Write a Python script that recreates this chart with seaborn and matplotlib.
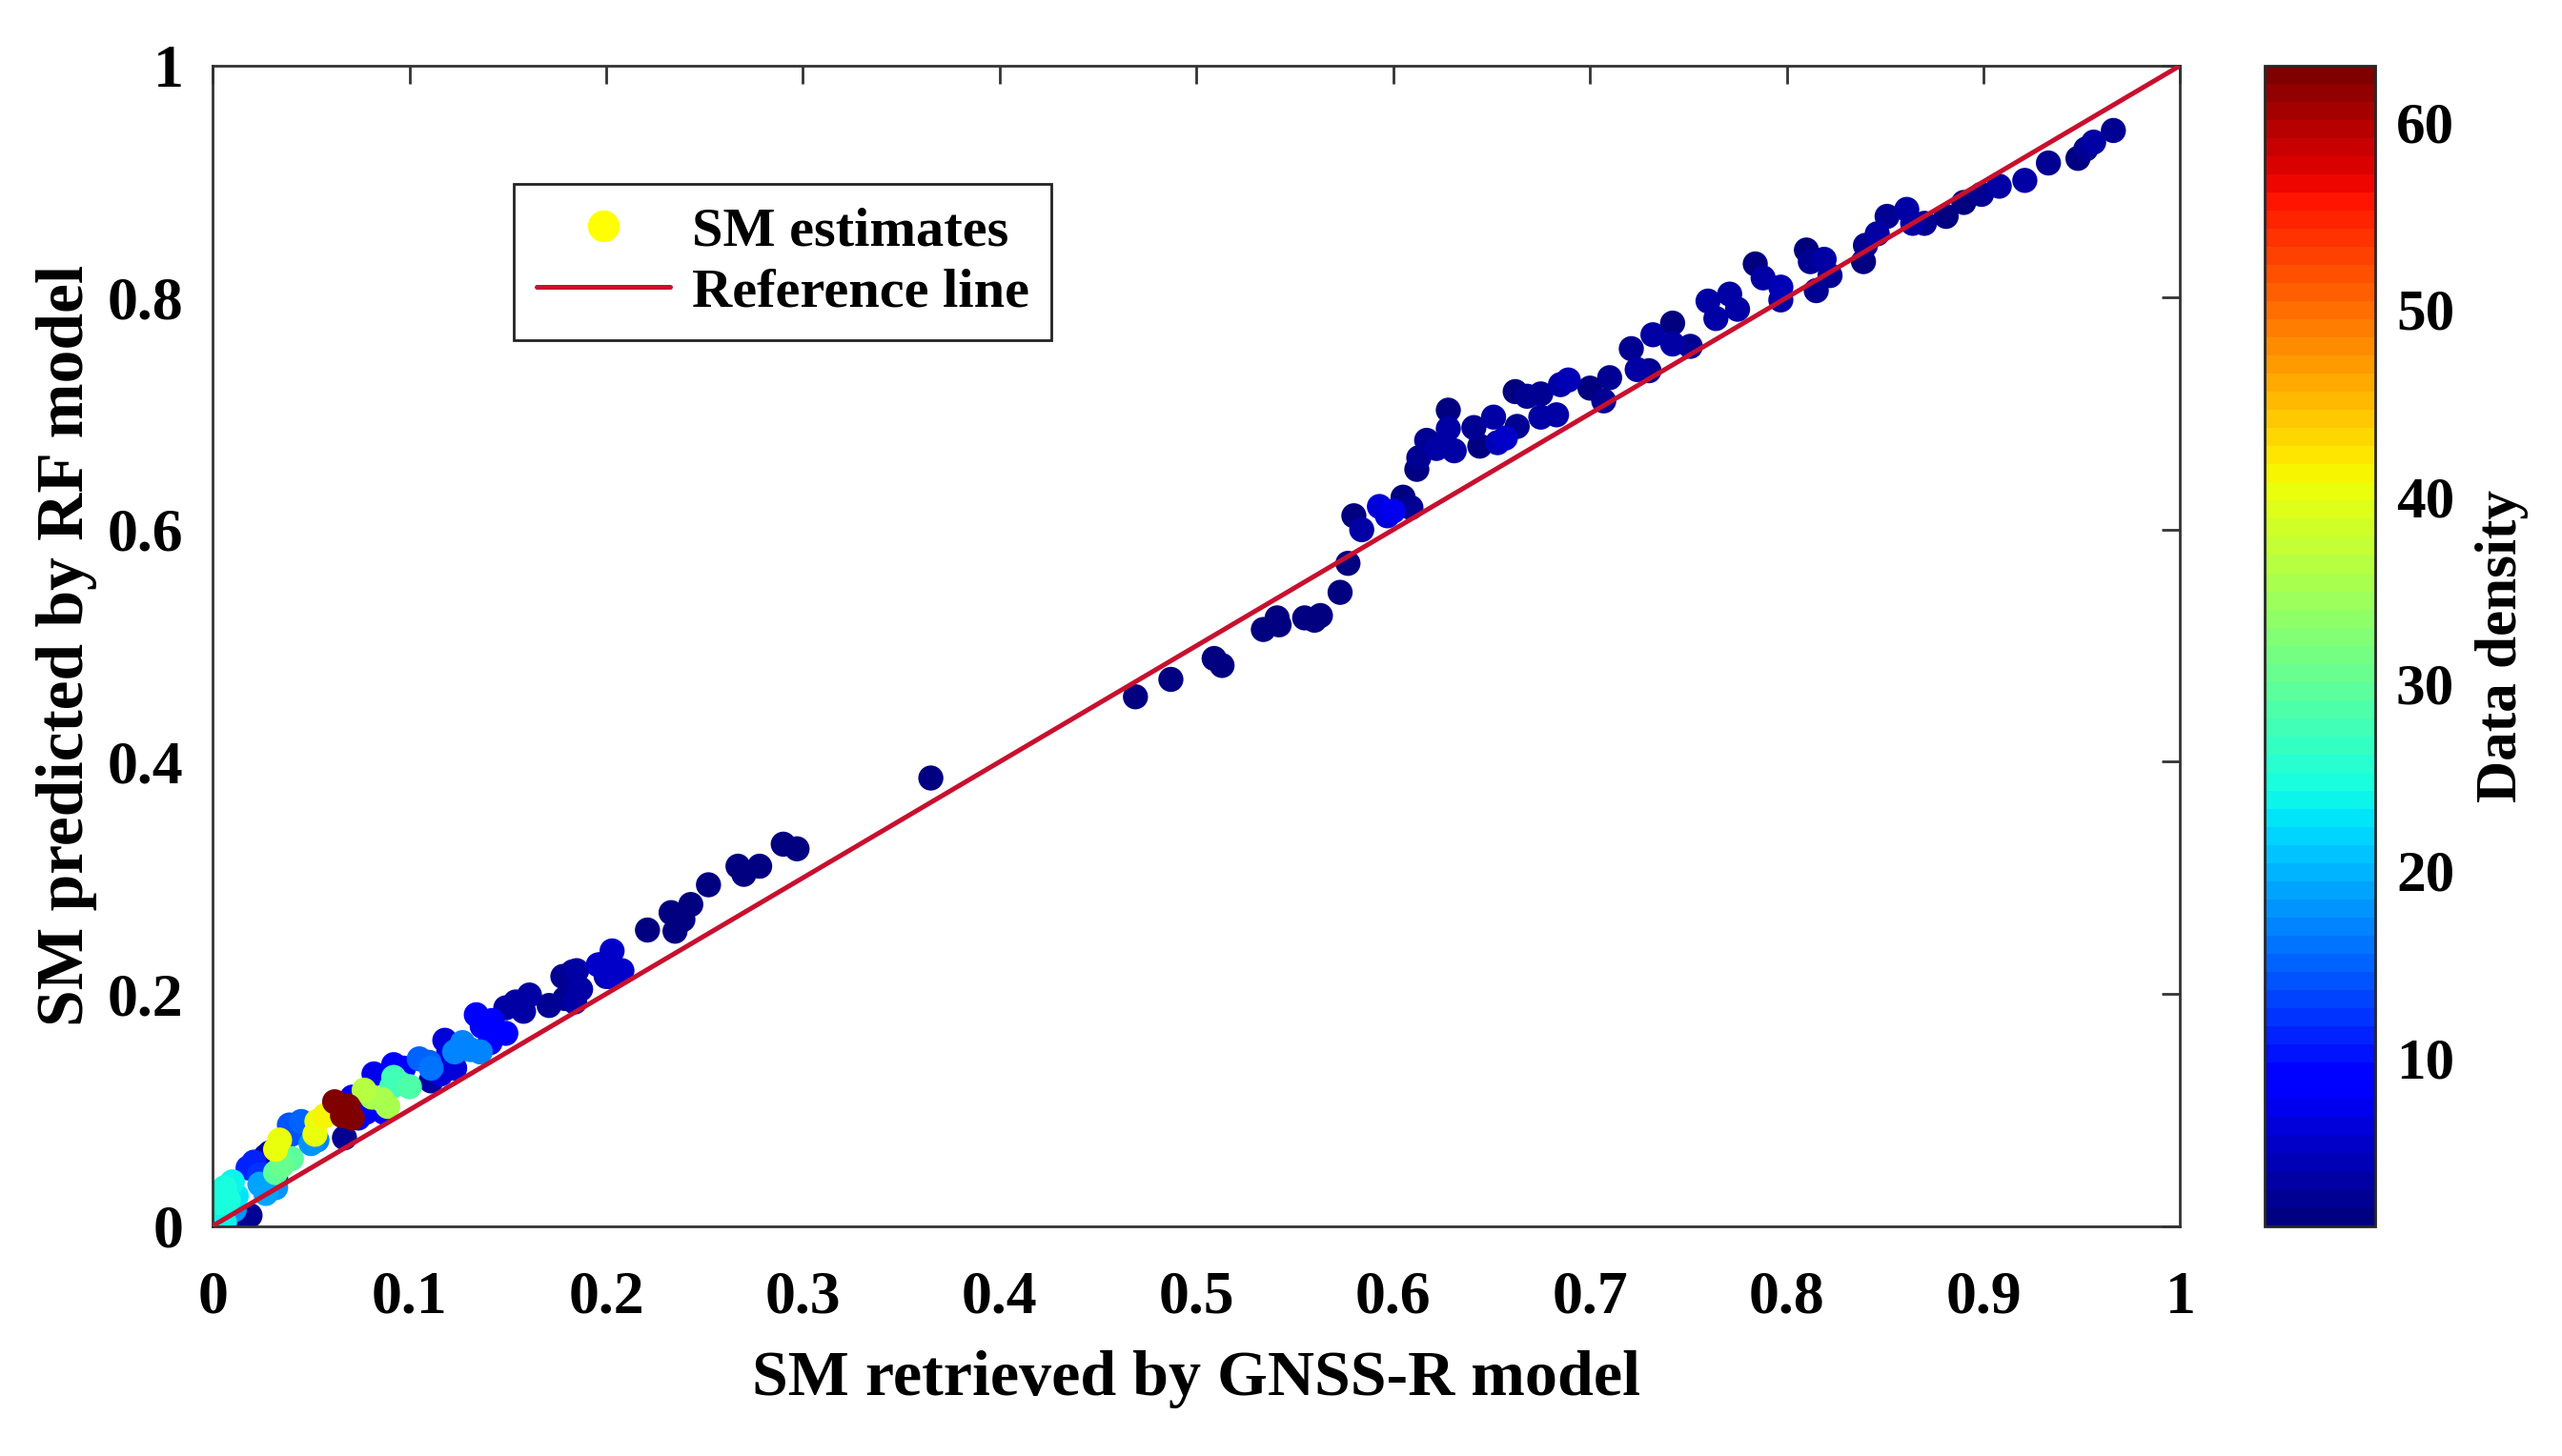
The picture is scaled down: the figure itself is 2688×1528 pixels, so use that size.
import numpy as np
import pandas as pd
import matplotlib
matplotlib.use('Agg')
import matplotlib.pyplot as plt
import seaborn as sns
from matplotlib.lines import Line2D

# 資料: GNSS-R 反演值, RF 預測值, 資料密度
x_gnss = [
    0.001, 0.003, 0.006, 0.010, 0.008, 0.003, 0.006, 0.004, 0.012,
    0.011, 0.024, 0.027, 0.032, 0.050, 0.053,
    0.019, 0.016, 0.032, 0.029, 0.027, 0.067,
    0.021, 0.018, 0.024,
    0.040, 0.035, 0.032,
    0.034, 0.032, 0.053, 0.057, 0.052,
    0.040, 0.039, 0.045,
    0.062, 0.069, 0.066, 0.071,
    0.074, 0.071, 0.087, 0.078, 0.082, 0.092, 0.097,
    0.081, 0.086, 0.077, 0.089,
    0.092, 0.095, 0.100, 0.091,
    0.111, 0.113,
    0.110, 0.105, 0.111,
    0.118, 0.120, 0.123, 0.116,
    0.127, 0.131, 0.123, 0.136,
    0.134, 0.142, 0.137, 0.149, 0.141,
    0.161, 0.154, 0.149, 0.158,
    0.183, 0.178, 0.186, 0.171, 0.179,
    0.197, 0.200,
    0.203, 0.196, 0.208, 0.202, 0.185, 0.187, 0.184,
    0.221, 0.233, 0.243, 0.239, 0.235, 0.252, 0.267, 0.270, 0.278, 0.290, 0.297, 0.365,
    0.469, 0.487, 0.509, 0.513, 0.534, 0.542, 0.541, 0.555, 0.563, 0.560, 0.573, 0.577,
    0.580, 0.584, 0.593, 0.600, 0.605, 0.609, 0.597,
    0.612, 0.613, 0.617, 0.622, 0.628, 0.628, 0.631,
    0.641, 0.644, 0.651, 0.657, 0.663, 0.653,
    0.662, 0.668, 0.675, 0.675, 0.683, 0.685, 0.689,
    0.700, 0.707, 0.710,
    0.721, 0.724, 0.730, 0.732, 0.742, 0.742, 0.751,
    0.760, 0.764, 0.771, 0.775, 0.784, 0.788, 0.797, 0.797,
    0.810, 0.812, 0.819, 0.822, 0.815,
    0.839, 0.840, 0.846, 0.851, 0.861, 0.864, 0.870,
    0.881, 0.890, 0.899, 0.908, 0.921,
    0.933, 0.948, 0.952, 0.956, 0.966,
]
y_rf = [
    0.017, 0.028, 0.033, 0.038, 0.022, 0.009, 0.003, 0.020, 0.026,
    0.014, 0.036, 0.028, 0.033, 0.071, 0.074,
    0.009, 0.003, 0.041, 0.063, 0.060, 0.076,
    0.055, 0.050, 0.044,
    0.058, 0.052, 0.046,
    0.074, 0.066, 0.090, 0.095, 0.079,
    0.079, 0.087, 0.090,
    0.107, 0.103, 0.095, 0.093,
    0.093, 0.111, 0.098, 0.098, 0.131, 0.139, 0.136,
    0.111, 0.109, 0.117, 0.103,
    0.128, 0.123, 0.120, 0.120,
    0.125, 0.131,
    0.141, 0.144, 0.136,
    0.160, 0.150, 0.136, 0.131,
    0.158, 0.152, 0.150, 0.150,
    0.182, 0.177, 0.172, 0.166, 0.158,
    0.199, 0.193, 0.188, 0.185,
    0.219, 0.215, 0.204, 0.190, 0.196,
    0.225, 0.215,
    0.237, 0.225, 0.220, 0.215, 0.220, 0.204, 0.193,
    0.255, 0.270, 0.277, 0.264, 0.254, 0.294, 0.310, 0.303, 0.310, 0.329, 0.325, 0.386,
    0.456, 0.471, 0.489, 0.483, 0.514, 0.518, 0.524, 0.524, 0.526, 0.522, 0.546, 0.571,
    0.612, 0.600, 0.620, 0.616, 0.628, 0.619, 0.612,
    0.652, 0.662, 0.677, 0.670, 0.687, 0.703, 0.668,
    0.688, 0.672, 0.697, 0.679, 0.689, 0.675,
    0.719, 0.715, 0.717, 0.697, 0.699, 0.725, 0.729,
    0.722, 0.711, 0.731,
    0.756, 0.738, 0.737, 0.768, 0.778, 0.760, 0.758,
    0.797, 0.782, 0.803, 0.790, 0.829, 0.817, 0.809, 0.798,
    0.841, 0.831, 0.833, 0.819, 0.806,
    0.831, 0.845, 0.855, 0.870, 0.876, 0.864, 0.864,
    0.870, 0.882, 0.889, 0.896, 0.901,
    0.916, 0.920, 0.928, 0.934, 0.944,
]
density = [
    24, 24, 25, 24, 25, 24, 24, 25, 23,
    18, 19, 19, 18, 18, 17,
    2, 2, 2, 2, 2, 2,
    11, 11, 12,
    30, 31, 30,
    40, 40, 40, 41, 40,
    14, 14, 15,
    63, 63, 63, 63,
    7, 7, 8, 8, 7, 8, 8,
    35, 35, 36, 35,
    28, 28, 29, 28,
    3, 3,
    15, 15, 16,
    6, 6, 6, 6,
    17, 17, 17, 17,
    8, 8, 8, 8, 8,
    3, 3, 3, 3,
    2, 2, 2, 2, 2,
    3, 3,
    5, 5, 5, 5, 3, 3, 3,
    1, 1, 1, 1, 1, 1, 1, 1, 1, 1, 1, 1,
    1, 1, 1, 1, 1, 1, 1, 1, 1, 1, 1, 1,
    1, 3, 6, 7, 1, 2, 6,
    1, 2, 2, 3, 3, 1, 3,
    2, 1, 3, 5, 2, 4,
    1, 2, 2, 3, 3, 3, 4,
    1, 2, 2,
    2, 3, 2, 3, 1, 3, 2,
    3, 3, 3, 3, 1, 3, 4, 3,
    1, 2, 3, 2, 2,
    1, 2, 3, 2, 3, 3, 2,
    1, 1, 2, 3, 3,
    2, 1, 2, 3, 2,
]
ref_line = [0, 1]

x_ticks = [0, 0.1, 0.2, 0.3, 0.4, 0.5, 0.6, 0.7, 0.8, 0.9, 1]
x_tick_labels = ['0', '0.1', '0.2', '0.3', '0.4', '0.5', '0.6', '0.7', '0.8', '0.9', '1']
y_ticks = [0, 0.2, 0.4, 0.6, 0.8, 1]
y_tick_labels = ['0', '0.2', '0.4', '0.6', '0.8', '1']
cbar_ticks = [10, 20, 30, 40, 50, 60]

df = pd.DataFrame({'gnss': x_gnss, 'rf': y_rf, 'density': density})
df = df.sort_values('density', kind='stable')

# 字型設定 (Times 風格粗體)
sns.set_theme(style='white')
plt.rcParams['font.family'] = ['Liberation Serif', 'DejaVu Serif']
plt.rcParams['font.weight'] = 'bold'
plt.rcParams['axes.labelweight'] = 'bold'
plt.rcParams['text.color'] = 'black'
plt.rcParams['axes.labelcolor'] = 'black'
plt.rcParams['xtick.color'] = 'black'
plt.rcParams['ytick.color'] = 'black'

cmap = plt.get_cmap('jet', 64)
norm = matplotlib.colors.Normalize(vmin=1, vmax=63)

fig = plt.figure(figsize=(13.44, 7.64), dpi=200)
ax = fig.add_axes([0.083, 0.158, 0.768, 0.797])
cax = fig.add_axes([0.884, 0.158, 0.043, 0.797])

sns.scatterplot(data=df, x='gnss', y='rf', hue='density', palette=cmap, hue_norm=norm,
                s=90, linewidth=0, edgecolor='none', legend=False, ax=ax, zorder=2)
ax.plot(ref_line, ref_line, color='#c8102e', linewidth=1.8, zorder=3)

ax.set_xlim(0, 1)
ax.set_ylim(0, 1)
ax.set_xticks(x_ticks)
ax.set_xticklabels(x_tick_labels)
ax.set_yticks(y_ticks)
ax.set_yticklabels(y_tick_labels)
ax.tick_params(direction='in', length=7, width=1.0, color='#333333',
               top=True, right=True, labelsize=23)
ax.tick_params(axis='x', pad=17)
ax.tick_params(axis='y', pad=11)
for sp in ax.spines.values():
    sp.set_color('#333333')
    sp.set_linewidth(1.0)
ax.set_xlabel('SM retrieved by GNSS-R model', fontsize=24.5, fontweight='bold', labelpad=9)
ax.set_ylabel('SM predicted by RF model', fontsize=25, fontweight='bold', labelpad=4)

# 圖例
handles = [
    Line2D([0], [0], marker='o', color='none', markerfacecolor='yellow',
           markeredgecolor='none', markersize=12, label='SM estimates'),
    Line2D([0], [0], color='#c8102e', linewidth=1.8, label='Reference line'),
]
leg = ax.legend(handles=handles, loc='upper left', bbox_to_anchor=(0.139, 0.922),
                frameon=True, fancybox=False, edgecolor='#222222', framealpha=1,
                prop={'size': 21, 'weight': 'bold'}, handlelength=2.4,
                borderpad=0.4, labelspacing=0.2, handletextpad=0.4)
leg.get_frame().set_linewidth(1.0)

# 色條
sm = matplotlib.cm.ScalarMappable(norm=norm, cmap=cmap)
cb = fig.colorbar(sm, cax=cax)
cb.set_ticks(cbar_ticks)
cb.ax.tick_params(direction='in', length=6, width=1.0, labelsize=22, pad=8, color='#333333')
cb.outline.set_linewidth(1.0)
cb.set_label('Data density', fontsize=22, fontweight='bold', labelpad=8)

fig.savefig('out.png', dpi=200)
